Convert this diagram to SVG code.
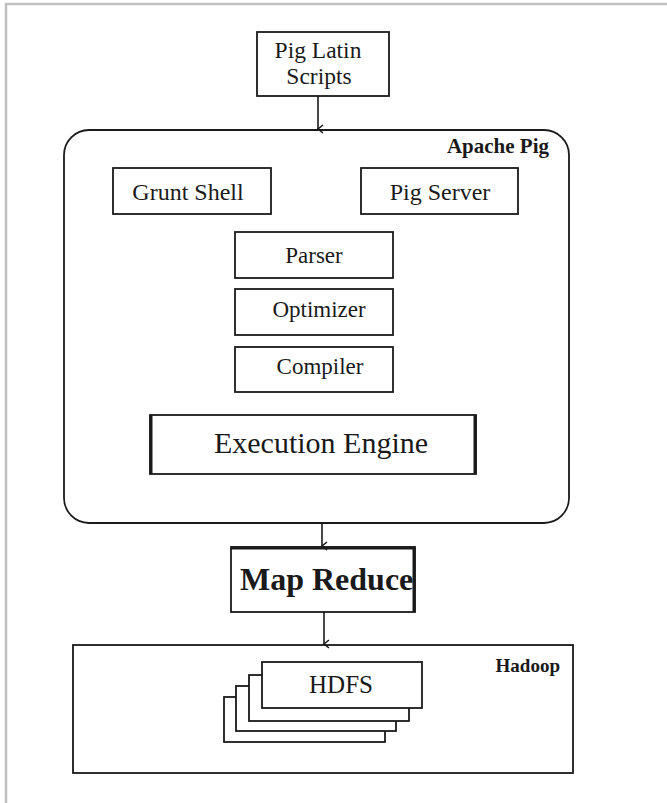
<svg xmlns="http://www.w3.org/2000/svg" width="667" height="803" viewBox="0 0 667 803">
<style>
.box{fill:#fff;stroke:#1a1a1a;stroke-width:1.8}
.t{font-family:"Liberation Serif","Times New Roman",serif;fill:#1a1a1a;text-anchor:middle}
.lbl{font-family:"Liberation Serif","Times New Roman",serif;font-weight:bold;fill:#1a1a1a;text-anchor:end}
.conn{stroke:#1a1a1a;stroke-width:1.6;fill:none}
.thick{stroke:#1a1a1a;stroke-width:3;fill:none}
</style>
<defs>
<marker id="arr" markerWidth="10" markerHeight="10" refX="5" refY="8" orient="auto" markerUnits="userSpaceOnUse">
<path d="M1,3 L5,8 L9,3" fill="none" stroke="#1a1a1a" stroke-width="1.6"/>
</marker>
</defs>
<rect width="667" height="803" fill="#fff"/>
<g id="frame">
<line x1="5" y1="4" x2="667" y2="4" stroke="#c0c0c0" stroke-width="2.5"/>
<line x1="6" y1="3" x2="6" y2="803" stroke="#c0c0c0" stroke-width="2.5"/>
</g>
<g id="pig-latin-scripts">
<rect class="box" x="257" y="32" width="132" height="64"/>
<text class="t" x="318" y="58" font-size="23.5">Pig Latin</text>
<text class="t" x="319" y="84" font-size="23.5">Scripts</text>
</g>
<g id="apache-pig">
<rect class="box" x="64" y="130" width="505" height="393" rx="25" ry="25"/>
<text class="lbl" x="549" y="153" font-size="21">Apache Pig</text>
</g>
<g id="grunt-shell">
<rect class="box" x="113" y="168" width="158" height="46"/>
<text class="t" x="188" y="200" font-size="24">Grunt Shell</text>
</g>
<g id="pig-server">
<rect class="box" x="361" y="168" width="157" height="46"/>
<text class="t" x="440" y="200" font-size="24">Pig Server</text>
</g>
<g id="parser">
<rect class="box" x="235" y="232" width="158" height="46"/>
<text class="t" x="314" y="263" font-size="23">Parser</text>
</g>
<g id="optimizer">
<rect class="box" x="235" y="289" width="158" height="46"/>
<text class="t" x="319" y="317" font-size="23">Optimizer</text>
</g>
<g id="compiler">
<rect class="box" x="235" y="347" width="158" height="45"/>
<text class="t" x="320" y="374" font-size="23">Compiler</text>
</g>
<g id="execution-engine">
<rect class="box" x="150" y="415" width="326" height="59"/>
<line class="thick" x1="151" y1="415" x2="151" y2="474"/>
<line class="thick" x1="475" y1="415" x2="475" y2="474"/>
<text class="t" x="321" y="453" font-size="30">Execution Engine</text>
</g>
<g id="map-reduce">
<rect class="box" x="231" y="547" width="184" height="65"/>
<line class="thick" x1="231" y1="548" x2="415" y2="548"/>
<line class="thick" x1="414" y1="547" x2="414" y2="612"/>
<text x="240" y="590" font-size="32" font-family="Liberation Serif, Times New Roman, serif" font-weight="bold" fill="#1a1a1a">Map Reduce</text>
</g>
<g id="hadoop">
<rect class="box" x="73" y="645" width="500" height="128"/>
<text class="lbl" x="560" y="672" font-size="19">Hadoop</text>
</g>
<g id="hdfs">
<rect class="box" x="224" y="697" width="161" height="45"/>
<rect class="box" x="236" y="686" width="160" height="45"/>
<rect class="box" x="249" y="675" width="160" height="46"/>
<rect class="box" x="262" y="662" width="160" height="46"/>
<text class="t" x="341" y="693" font-size="25">HDFS</text>
</g>
<g id="connectors">
<line class="conn" x1="318" y1="96" x2="318" y2="129" marker-end="url(#arr)"/>
<line class="conn" x1="322" y1="523" x2="322" y2="546" marker-end="url(#arr)"/>
<line class="conn" x1="324" y1="612" x2="324" y2="644" marker-end="url(#arr)"/>
</g>
</svg>
